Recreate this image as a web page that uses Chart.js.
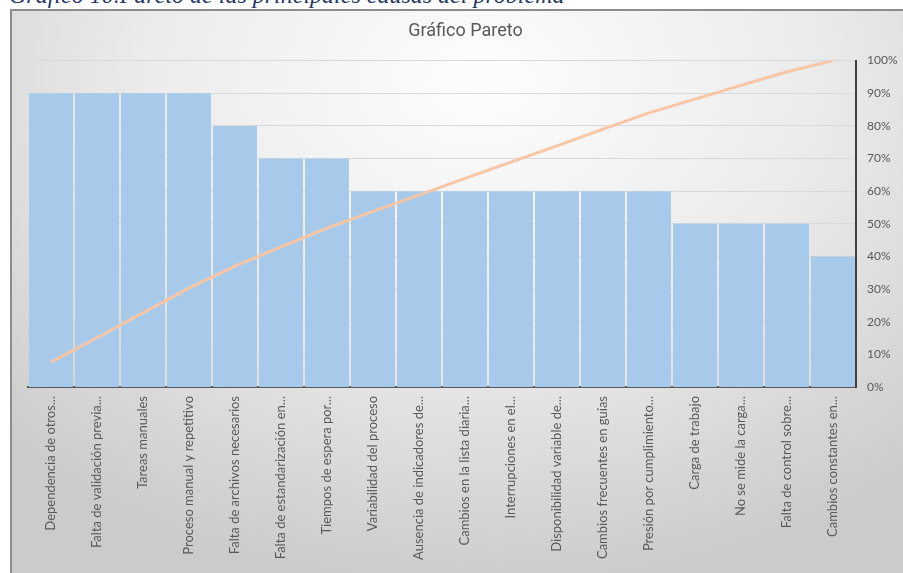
<!DOCTYPE html>
<html>
<head>
<meta charset="utf-8">
<script src="https://cdn.jsdelivr.net/npm/chart.js@4"></script>
<style>
  html, body { margin: 0; padding: 0; width: 903px; height: 573px; overflow: hidden; background: #fff; }
  #caption {
    position: absolute; left: 9px; top: -17px;
    font: italic 24px "Liberation Serif", "DejaVu Serif", serif;
    line-height: 24px; color: #1f3864; white-space: nowrap;
  }
  #frame {
    position: absolute; left: 10px; top: 9px; width: 900px; height: 570px;
    border-top: 2px solid #8c8c8c; border-left: 2px solid #8c8c8c;
    background: radial-gradient(ellipse 75% 90% at 52% 12%, #fdfdfd 0%, #ebebeb 50%, #cbcbcb 100%);
  }
  #wrap { position: absolute; left: 0; top: 0; width: 891px; height: 562px; }
</style>
</head>
<body>
<div id="caption">Gráfico 10.Pareto de las principales causas del problema</div>
<div id="frame"><div id="wrap"><canvas id="pareto"></canvas></div></div>
<script>
// causas y frecuencia
const causas = [
    'Dependencia de otros...',
    'Falta de validación previa...',
    'Tareas manuales',
    'Proceso manual y repetitivo',
    'Falta de archivos necesarios',
    'Falta de estandarización en...',
    'Tiempos de espera por...',
    'Variabilidad del proceso',
    'Ausencia de indicadores de...',
    'Cambios en la lista diaria...',
    'Interrupciones en el...',
    'Disponibilidad variable de...',
    'Cambios frecuentes en guías',
    'Presión por cumplimiento...',
    'Carga de trabajo',
    'No se mide la carga...',
    'Falta de control sobre...',
    'Cambios constantes en...'
];
const frecuencia = [9, 9, 9, 9, 8, 7, 7, 6, 6, 6, 6, 6, 6, 6, 5, 5, 5, 4];
// % acumulado
const acumulado = [7.6, 15.1, 22.7, 30.3, 37.0, 42.9, 48.7, 53.8, 58.8, 63.9, 68.9, 73.9, 79.0, 84.0, 88.2, 92.4, 96.6, 100];
const pctTicks = [0, 10, 20, 30, 40, 50, 60, 70, 80, 90, 100];

const labelFont = { family: 'Lato, "Liberation Sans", sans-serif', size: 13 };

const ctx = document.getElementById('pareto').getContext('2d');
new Chart(ctx, {
    type: 'bar',
    data: {
        labels: causas,
        datasets: [{
            type: 'line',
            label: 'Acumulado',
            data: acumulado,
            yAxisID: 'y1',
            borderColor: '#f8c5a5',
            borderWidth: 3,
            pointRadius: 0,
            tension: 0,
            order: 0
        }, {
            type: 'bar',
            label: 'Frecuencia',
            data: frecuencia,
            yAxisID: 'y',
            backgroundColor: '#a7caeb',
            borderWidth: 0,
            categoryPercentage: 1,
            barPercentage: 0.955,
            order: 1
        }]
    },
    options: {
        responsive: true,
        maintainAspectRatio: false,
        animation: false,
        layout: { padding: { left: 16, right: 0, top: 0, bottom: 0 } },
        plugins: {
            legend: { display: false },
            tooltip: { enabled: false },
            title: {
                display: true,
                text: 'Gráfico Pareto',
                color: '#595959',
                font: { family: 'Roboto, "Liberation Sans", sans-serif', size: 18, weight: 'normal' },
                padding: { top: 10, bottom: 18 }
            }
        },
        scales: {
            x: {
                grid: { display: false, drawTicks: false },
                border: { color: '#595959', width: 2 },
                ticks: {
                    color: '#595959', font: labelFont,
                    autoSkip: false, maxRotation: 90, minRotation: 90, padding: 9
                },
                afterFit: s => { s.height = 186; }
            },
            y: {
                display: false,
                min: 0, max: 10
            },
            y1: {
                position: 'right',
                min: 0, max: 100,
                afterBuildTicks: s => { s.ticks = pctTicks.map(v => ({ value: v })); },
                grid: { color: '#d9d9d9', lineWidth: 1, drawTicks: false },
                border: { color: '#404040', width: 2 },
                ticks: {
                    color: '#595959', font: { family: 'Lato, "Liberation Sans", sans-serif', size: 12 }, padding: 11,
                    callback: v => v + '%'
                },
                afterFit: s => { s.width = 47; }
            }
        }
    }
});
</script>
</body>
</html>
